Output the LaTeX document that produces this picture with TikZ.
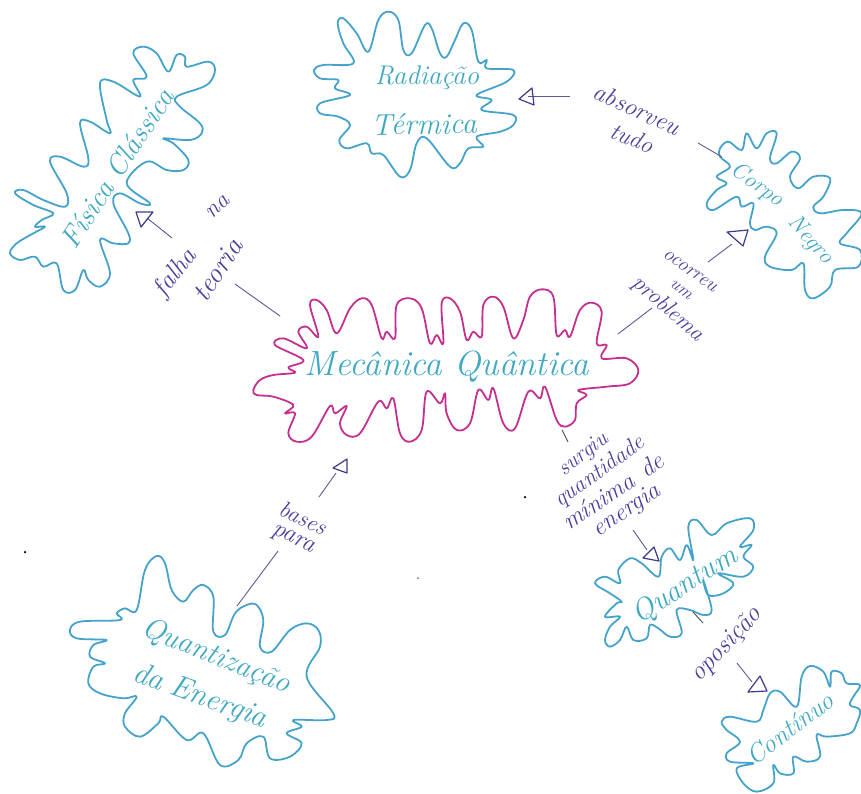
\documentclass[tikz,border=0pt]{standalone}
\usepackage{fontspec}
\definecolor{magcloud}{HTML}{C4308F}
\definecolor{bluecloud}{HTML}{45A3CA}
\definecolor{cloudtext}{HTML}{3FA9C2}
\definecolor{inkpurple}{HTML}{4A3F9F}
\definecolor{inkline}{HTML}{5A5A96}
\definecolor{inktri}{HTML}{3C3A8A}
\newcommand{\fs}[1]{\fontsize{#1}{#1}\selectfont\itshape}
\newcommand{\wide}[1]{\addfontfeatures{LetterSpace=#1}}
\tikzset{
  zoomed/.style 2 args={shift={(#1,#2)},x=0.33333pt,y=-0.33333pt},
  cloudline/.style={draw=#1,line width=1.8pt,line join=round},
  cloudname/.style={text=cloudtext,inner sep=0pt},
  linklabel/.style={text=inkpurple,inner sep=0pt},
  linkline/.style={draw=inkline,line width=0.9pt},
  tri/.style={draw=inktri,line width=1.2pt,line join=round},
  speck/.style={circle,fill=black,inner sep=0pt,minimum size=#1}
}
\newcommand{\cloudshape}[4]{%
  \begin{scope}[zoomed={#2}{#3}]
    \draw[cloudline=#1] plot[smooth cycle,tension=0.6] coordinates {#4};
  \end{scope}}
\begin{document}
\begin{tikzpicture}[x=1pt,y=-1pt]
\useasboundingbox (0,0) rectangle (861,793);
% central cloud
\cloudshape{magcloud}{240}{280}{(40,330)(60,300)(100,285)(165,278)(145,262)(190,240)(105,195)(130,175)(200,205)(175,155)(200,140)(235,170)(210,75)(230,60)(260,90)(290,160)(330,85)(365,55)(395,75)(425,175)(440,155)(465,175)(470,75)(510,55)(545,85)(570,190)(590,165)(610,190)(605,70)(630,55)(660,95)(680,180)(700,155)(725,170)(730,75)(760,50)(790,80)(820,175)(850,120)(870,50)(905,28)(940,50)(950,165)(975,150)(990,170)(1020,90)(1055,68)(1085,95)(1070,190)(1100,195)(1085,235)(1160,235)(1195,270)(1170,310)(1100,320)(1015,330)(1040,345)(1010,370)(1005,420)(975,440)(950,420)(915,320)(900,355)(865,335)(825,445)(790,430)(760,325)(745,360)(715,330)(690,430)(650,450)(620,400)(615,340)(600,370)(560,335)(545,450)(510,485)(480,460)(460,355)(440,385)(415,365)(360,460)(320,465)(300,430)(320,378)(285,400)(270,378)(215,470)(170,485)(145,460)(165,400)(135,400)(160,375)(100,350)(50,345)}
% Fisica Classica
\cloudshape{bluecloud}{0}{30}{(30,670)(50,640)(100,610)(135,590)(105,590)(125,570)(160,550)(100,525)(45,490)(70,480)(130,510)(195,530)(200,490)(150,395)(180,380)(250,410)(265,385)(240,280)(270,275)(330,310)(320,270)(300,160)(340,155)(420,200)(400,150)(440,140)(400,70)(430,50)(470,70)(505,125)(530,75)(555,80)(560,110)(625,95)(645,120)(620,165)(530,200)(540,230)(600,280)(605,310)(570,330)(490,325)(520,340)(565,390)(550,420)(500,420)(440,395)(380,460)(450,520)(420,520)(360,490)(340,520)(385,610)(385,640)(340,640)(300,630)(330,730)(300,770)(265,750)(250,720)(225,780)(190,780)(170,700)(130,710)(105,680)(60,690)}
% Radiacao Termica
\cloudshape{bluecloud}{300}{0}{(42,210)(70,195)(160,190)(130,130)(113,70)(130,55)(170,100)(205,155)(235,60)(265,35)(295,60)(310,150)(335,160)(375,75)(395,85)(420,160)(440,170)(465,120)(490,70)(515,90)(535,185)(560,180)(560,205)(640,210)(620,245)(530,285)(575,300)(545,330)(640,345)(640,375)(600,395)(530,410)(550,440)(505,445)(480,490)(450,500)(380,415)(350,430)(330,510)(300,530)(250,465)(215,460)(200,430)(140,445)(118,420)(150,375)(115,350)(60,340)(60,310)(150,285)(105,265)(115,240)(60,235)}
% Corpo Negro
\cloudshape{bluecloud}{600}{70}{(360,235)(385,215)(425,240)(440,190)(470,235)(500,190)(530,190)(510,265)(530,280)(575,245)(600,265)(570,320)(595,355)(640,320)(690,325)(670,380)(640,410)(660,430)(730,420)(785,430)(740,490)(720,520)(780,540)(775,590)(705,600)(690,650)(640,685)(615,660)(610,580)(575,600)(510,590)(495,560)(530,490)(500,470)(465,480)(450,460)(460,400)(425,410)(410,380)(340,420)(320,400)(350,360)(380,340)(350,320)(390,290)(360,260)}
% Quantum
\cloudshape{bluecloud}{530}{420}{(195,490)(225,470)(270,490)(265,450)(300,415)(335,430)(385,470)(395,410)(420,385)(450,420)(470,375)(490,420)(475,320)(500,300)(545,345)(590,310)(660,295)(670,330)(630,380)(665,375)(640,410)(670,440)(640,470)(565,460)(610,490)(580,520)(535,525)(520,480)(545,570)(520,585)(480,570)(440,570)(455,640)(420,650)(385,625)(360,615)(350,655)(310,660)(290,620)(270,660)(240,680)(225,660)(240,620)(270,590)(225,590)(260,550)(275,545)(240,520)}
% Continuo
\cloudshape{bluecloud}{530}{420}{(575,905)(600,890)(680,905)(700,870)(720,820)(750,815)(800,860)(815,770)(840,738)(880,755)(900,800)(905,755)(935,760)(950,790)(990,795)(970,830)(960,855)(990,870)(980,910)(960,940)(890,950)(860,945)(870,1010)(830,1025)(790,1010)(790,1060)(750,1060)(730,1035)(730,1090)(680,1115)(640,1090)(620,1045)(670,1030)(600,1025)(590,1000)(630,965)(590,930)}
% Quantizacao da Energia
\cloudshape{bluecloud}{50}{450}{(60,540)(90,515)(210,510)(200,490)(225,475)(260,480)(285,360)(320,318)(345,340)(365,420)(400,455)(430,420)(460,405)(490,440)(490,545)(525,555)(555,490)(590,465)(620,465)(640,510)(630,590)(665,605)(720,540)(770,520)(805,540)(810,590)(770,680)(850,790)(830,810)(730,810)(755,830)(710,850)(755,880)(720,920)(660,925)(640,860)(590,880)(565,930)(510,945)(460,850)(410,870)(340,800)(325,820)(270,860)(225,830)(225,790)(260,740)(220,745)(150,730)(115,700)(130,650)(165,640)(120,620)(130,585)(170,570)(80,565)}
% cloud names
\node[cloudname,font=\fs{35}] (mq) at (447,367) {Mecânica Quântica};
\node[cloudname,rotate=57,font=\fs{29}] (fc) at (117,168) {Física Clássica};
\node[cloudname,font=\fs{27}] (rad) at (427,78) {Radiação};
\node[cloudname,rotate=1,font=\fs{30}] (ter) at (424,124) {Térmica};
\node[cloudname,rotate=-35,font=\fs{23}] (cor) at (757,185) {Corpo};
\node[cloudname,rotate=-48,font=\fs{23}] (neg) at (810,240) {Negro};
\node[cloudname,rotate=33,font=\fs{30}] (qua) at (685,586) {Quantum};
\node[cloudname,rotate=37,font=\fs{26}] (con) at (790,728) {Contínuo};
\node[cloudname,rotate=-22,font=\fs{30}] (qz) at (216,657) {Quantização};
\node[cloudname,rotate=-20,font=\fs{31}] (da) at (200,697) {da\hspace{8pt}Energia};
% link labels
\node[linklabel,rotate=-25,font=\fs{25}] (l1) at (637,109) {absorveu};
\node[linklabel,rotate=-22,font=\fs{24}] (l2) at (632,138) {\wide{15}tudo};
\node[linklabel,rotate=-35,font=\fs{20}] (l3) at (690,271) {\wide{8}ocorreu};
\node[linklabel,rotate=-38,font=\fs{18}] (l4) at (681,290) {um};
\node[linklabel,rotate=-41,font=\fs{23}] (l5) at (668,309) {\wide{6}problema};
\node[linklabel,rotate=52,font=\fs{26}] (l6) at (176,273) {falha};
\node[linklabel,rotate=45,font=\fs{24}] (l7) at (218,207) {na};
\node[linklabel,rotate=57,font=\fs{28}] (l8) at (218,270) {teoria};
\node[linklabel,rotate=38,font=\fs{22}] (l9) at (584,455) {surgiu};
\node[linklabel,rotate=36,font=\fs{23}] (l10) at (600,472) {quantidade};
\node[linklabel,rotate=34,font=\fs{25}] (l11) at (613,491) {mínima\hspace{12pt}de};
\node[linklabel,rotate=34,font=\fs{25}] (l12) at (627,511) {\wide{12}energia};
\node[linklabel,rotate=47,font=\fs{26}] (l13) at (727,645) {oposição};
\node[linklabel,rotate=-25,font=\fs{23}] (l14) at (303,518) {bases};
\node[linklabel,rotate=-25,font=\fs{25}] (l15) at (293,540) {\wide{12}para};
% connectors
\coordinate (a1) at (235,284); \coordinate (a2) at (280,316);
\coordinate (a3) at (172,238); \coordinate (a4) at (147,218);
\coordinate (a5) at (570,96);  \coordinate (a6) at (528,96);
\coordinate (a7) at (698,143); \coordinate (a8) at (722,157);
\coordinate (a9) at (618,334); \coordinate (a10) at (652,308);
\coordinate (a11) at (708,262); \coordinate (a12) at (732,244);
\coordinate (a13) at (562,430); \coordinate (a14) at (568,442);
\coordinate (a15) at (633,530); \coordinate (a16) at (647,550);
\coordinate (a17) at (693,612); \coordinate (a18) at (703,623);
\coordinate (a19) at (737,663); \coordinate (a20) at (752,682);
\coordinate (a21) at (237,606); \coordinate (a22) at (278,551);
\coordinate (a23) at (319,497); \coordinate (a24) at (336,473);
\draw[linkline] (a1) -- (a2);
\draw[linkline] (a3) -- (a4);
\draw[linkline] (a5) -- (a6);
\draw[linkline] (a7) -- (a8);
\draw[linkline] (a9) -- (a10);
\draw[linkline] (a11) -- (a12);
\draw[linkline,draw=black!70] (a13) -- (a14);
\draw[linkline] (a15) -- (a16);
\draw[linkline,draw=black!70] (a17) -- (a18);
\draw[linkline] (a19) -- (a20);
\draw[linkline] (a21) -- (a22);
\draw[linkline] (a23) -- (a24);
% open triangle arrowheads
\draw[tri] (136,212) -- (153,212) -- (141,227) -- cycle;
\draw[tri] (532,88) -- (519,99) -- (534,105) -- cycle;
\draw[tri] (727,232) -- (748,230) -- (743,246) -- cycle;
\draw[tri] (654,547) -- (643,558) -- (659,561) -- cycle;
\draw[tri] (760,676) -- (748,692) -- (767,691) -- cycle;
\draw[tri] (347,459) -- (333,468) -- (347,473) -- cycle;
% specks
\node[speck=2.5pt] (s1) at (25,552) {};
\node[speck=2.5pt] (s2) at (525,497) {};
\node[speck=1.5pt] (s3) at (418,578) {};
\end{tikzpicture}
\end{document}
